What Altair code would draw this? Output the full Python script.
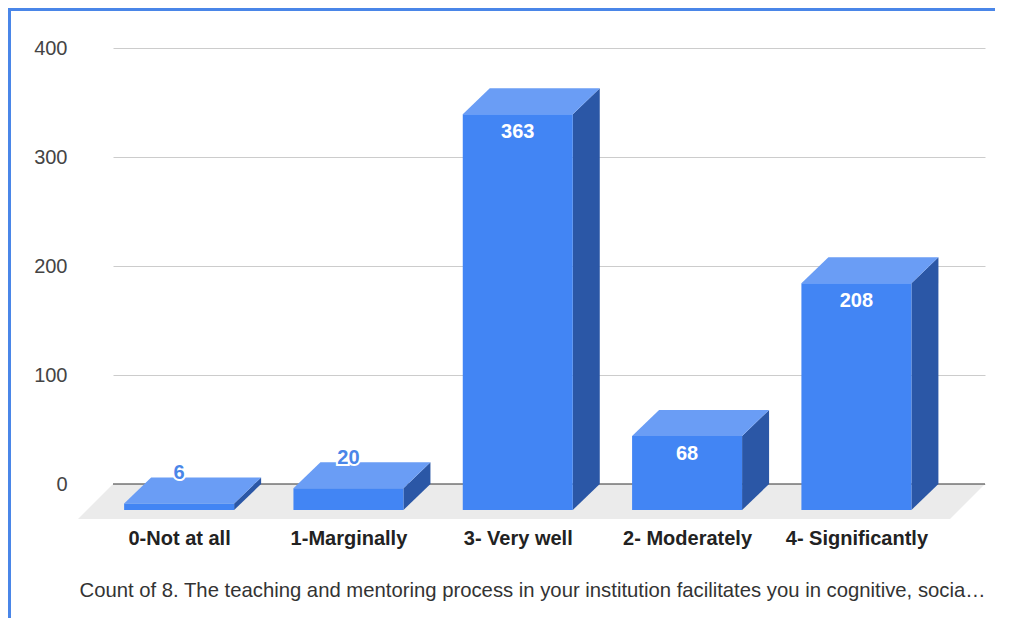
import altair as alt
import pandas as pd

# ---- data ----
categories = ["0-Not at all", "1-Marginally", "3- Very well", "2- Moderately", "4- Significantly"]
counts = [6, 20, 363, 68, 208]
y_ticks = [0, 100, 200, 300, 400]
x_title = "Count of 8. The teaching and mentoring process in your institution facilitates you in cognitive, socia\u2026"

# ---- style / geometry constants ----
W, H = 872, 471
X_MIN, X_MAX = -0.55, 4.6
FLOOR_DY = 32.1           # floor depth in value units
PX_X = W / (X_MAX - X_MIN)
PX_Y = H / (400 + FLOOR_DY)
DX = 27 / PX_X            # bar depth (x units)
DY = 26 / PX_Y            # bar depth (value units)
HW = 55 / PX_X            # half bar width
FDX = 35 / PX_X           # floor depth (x units)

FRONT = "#4285f4"
TOP = "#6a9df5"
SIDE = "#2b57a6"

xs = alt.Scale(domain=[X_MIN, X_MAX], nice=False, zero=False)
ys = alt.Scale(domain=[-FLOOR_DY, 400], nice=False, zero=False)

# derived tables
front_rows, top_rows, side_rows, lab_rows = [], [], [], []
for i, (c, v) in enumerate(zip(categories, counts)):
    fc = i - DX
    front_rows.append(dict(cat=c, x=fc - HW, x2=fc + HW, y=v - DY, y2=-DY))
    top_rows.append(dict(cat=c, y=v - DY, x=fc - HW, x2=fc + HW))
    top_rows.append(dict(cat=c, y=v, x=i - HW, x2=i + HW))
    side_rows.append(dict(cat=c, x=fc + HW, y=v - DY, y2=-DY))
    side_rows.append(dict(cat=c, x=i + HW, y=v, y2=0))
    inside = v > 50
    ly = (v - DY - 18 / PX_Y) if inside else (v - DY + 30 / PX_Y)
    lab_rows.append(dict(cat=c, x=fc, y=ly, label=str(v), inside=inside))

front_df = pd.DataFrame(front_rows)
top_df = pd.DataFrame(top_rows)
side_df = pd.DataFrame(side_rows)
lab_df = pd.DataFrame(lab_rows)
floor_df = pd.DataFrame([
    dict(y=-FLOOR_DY, x=X_MIN - FDX, x2=X_MAX - FDX),
    dict(y=0, x=X_MIN, x2=X_MAX),
])
tick_df = pd.DataFrame({"v": y_ticks, "x": [0] * len(y_ticks)})

label_expr = "[" + ",".join("'" + c + "'" for c in categories) + "][round(datum.value)]"

base_axes = alt.Chart(tick_df).mark_point(opacity=0).encode(
    x=alt.X("x:Q", scale=xs, axis=alt.Axis(
        values=list(range(len(categories))), labelExpr=label_expr,
        labelOffset=-27, labelPadding=9, labelFontSize=20, labelFontWeight="bold",
        labelColor="#222", labelFont="Liberation Sans", domain=False, ticks=False,
        grid=False, title=x_title, titleFont="Liberation Sans", titleFontSize=20.3,
        titleFontWeight="normal", titleColor="#333", titleX=419, titleY=71,
        titleBaseline="middle", titleAlign="center", labelFlush=False)),
    y=alt.Y("v:Q", scale=ys, axis=alt.Axis(
        values=y_ticks, labelFontSize=20, labelColor="#444", labelFont="Liberation Sans",
        labelPadding=46, domain=False, ticks=False, grid=True, gridColor="#cccccc",
        title=None)),
)

floor = alt.Chart(floor_df).mark_area(orient="horizontal", color="#ebebeb").encode(
    y=alt.Y("y:Q", scale=ys), x=alt.X("x:Q", scale=xs), x2="x2:Q")

zero = alt.Chart(tick_df.head(1)).mark_rule(color="#333", strokeWidth=1.2).encode(
    y=alt.datum(0, scale=ys))

side = alt.Chart(side_df).mark_area(orient="vertical", color=SIDE).encode(
    x=alt.X("x:Q", scale=xs), y=alt.Y("y:Q", scale=ys), y2="y2:Q", detail="cat:N")

top = alt.Chart(top_df).mark_area(orient="horizontal", color=TOP).encode(
    y=alt.Y("y:Q", scale=ys), x=alt.X("x:Q", scale=xs), x2="x2:Q", detail="cat:N")

front = alt.Chart(front_df).mark_rect(color=FRONT).encode(
    x=alt.X("x:Q", scale=xs), x2="x2:Q", y=alt.Y("y:Q", scale=ys), y2="y2:Q")

lab_in = alt.Chart(lab_df).transform_filter("datum.inside").mark_text(
    color="white", fontSize=20, fontWeight="bold", font="Liberation Sans", baseline="middle").encode(
    x=alt.X("x:Q", scale=xs), y=alt.Y("y:Q", scale=ys), text="label:N")

lab_out_halo = alt.Chart(lab_df).transform_filter("!datum.inside").mark_text(
    color="white", stroke="white", strokeWidth=4, fontSize=20, fontWeight="bold",
    font="Liberation Sans", baseline="middle").encode(
    x=alt.X("x:Q", scale=xs), y=alt.Y("y:Q", scale=ys), text="label:N")

lab_out = alt.Chart(lab_df).transform_filter("!datum.inside").mark_text(
    color="#4a86e8", fontSize=20, fontWeight="bold", font="Liberation Sans", baseline="middle").encode(
    x=alt.X("x:Q", scale=xs), y=alt.Y("y:Q", scale=ys), text="label:N")

frame_df = pd.DataFrame({"k": [0]})
frame_top = alt.Chart(frame_df).mark_rule(color="#4a86e8", strokeWidth=3, clip=False).encode(
    x=alt.value(-105), x2=alt.value(W + 20), y=alt.value(-38.5))
frame_left = alt.Chart(frame_df).mark_rule(color="#4a86e8", strokeWidth=3, clip=False).encode(
    x=alt.value(-103.5), y=alt.value(-40), y2=alt.value(H + 130))

chart = alt.layer(
    base_axes, floor, zero, side, top, front, lab_in, lab_out_halo, lab_out, frame_top, frame_left
).properties(
    width=W, height=H,
    background="white",
    autosize=alt.AutoSizeParams(type="none"),
    padding={"left": 105, "top": 40, "right": 10, "bottom": 99},
).configure_view(stroke=None, strokeWidth=0)

chart.save("out.html", embed_options={"renderer": "svg", "actions": False})
